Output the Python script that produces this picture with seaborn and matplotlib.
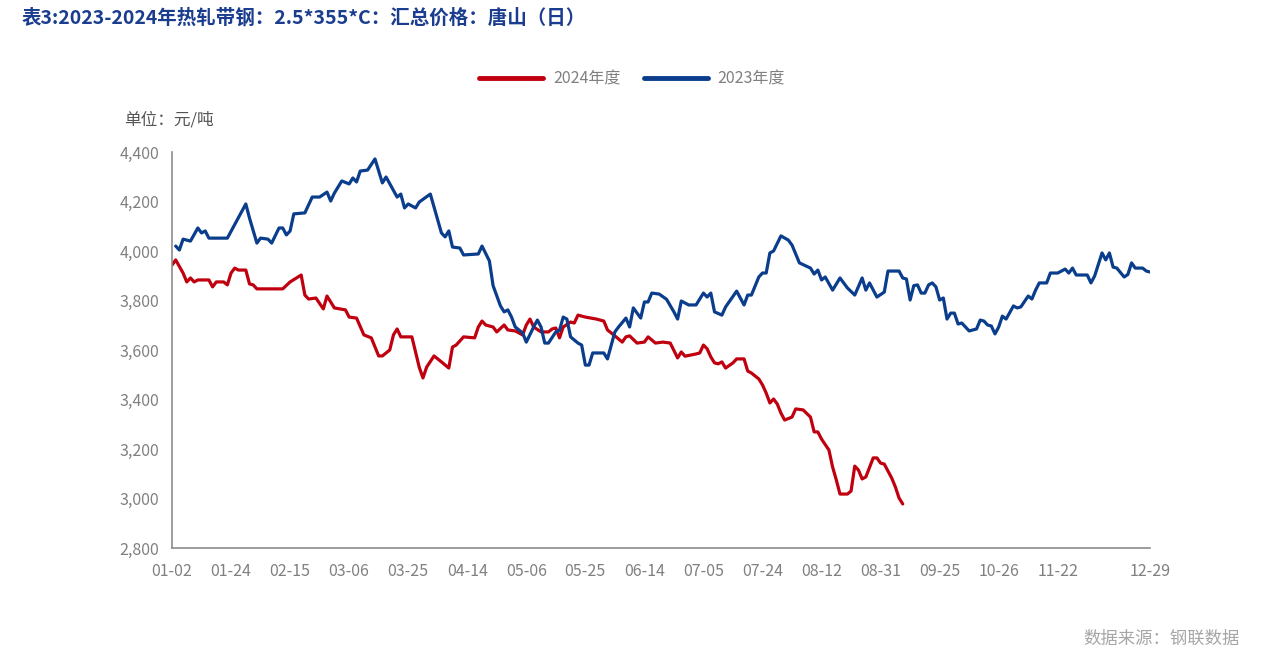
import matplotlib
matplotlib.use("Agg")
import matplotlib.pyplot as plt
import seaborn as sns
import pandas as pd
from matplotlib.lines import Line2D

# ---- data (trading-day index, price in 元/吨) ----
day_2023 = [1, 2, 3, 5, 7, 8, 9, 10, 15, 20, 21, 23, 24, 26, 27, 29, 30, 31, 32, 33, 36, 38, 40, 42, 43, 44,
            46, 48, 49, 50, 51, 53, 55, 57, 58, 61, 62, 63, 64, 66, 67, 70, 73, 74, 75, 76, 78, 79, 83, 84,
            86, 87, 89, 90, 91, 92, 93, 95, 96, 98, 99, 100, 101, 102, 104, 105, 106, 107, 108, 110, 111,
            112, 113, 114, 117, 118, 120, 121, 123, 124, 125, 127, 128, 129, 130, 132, 134, 136, 137, 138,
            140, 142, 144, 145, 146, 147, 149, 150, 153, 155, 156, 157, 159, 160, 161, 162, 163, 165, 167,
            168, 170, 173, 174, 175, 176, 177, 179, 181, 183, 185, 187, 188, 189, 191, 193, 194, 197, 198,
            199, 200, 201, 202, 203, 204, 205, 206, 207, 208, 209, 210, 211, 212, 213, 214, 216, 218, 219,
            220, 221, 222, 223, 224, 225, 226, 228, 229, 230, 232, 233, 234, 235, 237, 238, 240, 242, 243,
            244, 245, 248, 249, 250, 252, 253, 254, 255, 256, 258, 259, 260, 261, 263, 264, 265]
price_2023 = [4020, 4004, 4048, 4040, 4093, 4073, 4081, 4052, 4052, 4190, 4133, 4032, 4052, 4048, 4032,
              4093, 4093, 4065, 4081, 4150, 4154, 4218, 4218, 4238, 4202, 4234, 4283, 4271, 4295, 4279,
              4323, 4327, 4372, 4275, 4299, 4218, 4230, 4174, 4190, 4174, 4198, 4230, 4073, 4057, 4081,
              4016, 4012, 3984, 3988, 4020, 3960, 3860, 3778, 3754, 3762, 3733, 3693, 3669, 3632, 3693,
              3721, 3693, 3628, 3628, 3673, 3680, 3733, 3725, 3653, 3628, 3620, 3539, 3539, 3588, 3588,
              3564, 3673, 3693, 3729, 3693, 3770, 3729, 3794, 3794, 3830, 3826, 3805, 3754, 3725, 3798,
              3782, 3782, 3830, 3814, 3830, 3754, 3741, 3774, 3838, 3782, 3822, 3822, 3895, 3911, 3911,
              3992, 4000, 4061, 4044, 4024, 3952, 3931, 3907, 3923, 3883, 3895, 3842, 3891, 3851, 3822,
              3891, 3842, 3871, 3814, 3834, 3919, 3919, 3891, 3887, 3802, 3860, 3863, 3830, 3830, 3863,
              3871, 3855, 3802, 3810, 3725, 3749, 3749, 3705, 3709, 3677, 3685, 3721, 3717, 3701, 3697,
              3665, 3693, 3737, 3725, 3778, 3770, 3774, 3818, 3806, 3842, 3871, 3871, 3911, 3911, 3927,
              3911, 3931, 3903, 3903, 3871, 3899, 3992, 3964, 3992, 3935, 3931, 3895, 3905, 3952, 3931,
              3931, 3919, 3915]

day_2024 = [0, 1, 3, 4, 5, 6, 7, 10, 11, 12, 14, 15, 16, 17, 18, 20, 21, 22, 23, 30, 32, 35, 36, 37, 39,
            41, 42, 43, 44, 47, 48, 50, 52, 54, 56, 57, 59, 60, 61, 62, 65, 66, 67, 68, 69, 71, 73, 75,
            76, 77, 79, 82, 83, 84, 85, 87, 88, 90, 91, 93, 95, 96, 97, 98, 100, 102, 103, 104, 105, 106,
            108, 109, 110, 112, 115, 117, 118, 120, 122, 123, 124, 126, 128, 129, 131, 133, 135, 137, 138,
            139, 142, 143, 144, 145, 146, 147, 148, 149, 150, 152, 153, 155, 156, 157, 159, 160, 161, 162,
            163, 164, 165, 166, 168, 169, 171, 173, 174, 175, 176, 178, 179, 180, 181, 183, 184, 185, 186,
            187, 188, 190, 191, 192, 193, 195, 196, 197, 198]
price_2024 = [3943, 3964, 3911, 3875, 3891, 3875, 3883, 3883, 3855, 3875, 3875, 3863, 3911, 3931, 3923,
              3923, 3867, 3863, 3847, 3847, 3875, 3903, 3822, 3806, 3810, 3766, 3818, 3794, 3770, 3762,
              3733, 3729, 3661, 3649, 3576, 3576, 3600, 3661, 3685, 3653, 3653, 3592, 3530, 3487, 3531,
              3576, 3552, 3527, 3612, 3620, 3653, 3649, 3693, 3717, 3701, 3693, 3673, 3701, 3681, 3677,
              3661, 3701, 3725, 3693, 3673, 3673, 3685, 3689, 3649, 3693, 3713, 3709, 3741, 3733, 3725,
              3717, 3681, 3657, 3632, 3653, 3657, 3628, 3632, 3653, 3628, 3632, 3628, 3568, 3592, 3575,
              3584, 3588, 3620, 3605, 3572, 3548, 3544, 3552, 3527, 3548, 3564, 3564, 3515, 3507, 3483,
              3459, 3426, 3386, 3402, 3382, 3345, 3317, 3329, 3362, 3358, 3329, 3269, 3269, 3240, 3196,
              3127, 3075, 3018, 3018, 3030, 3131, 3115, 3079, 3087, 3164, 3164, 3143, 3139, 3083, 3047,
              3002, 2978]

series_names = ["2024年度", "2023年度"]
tick_days = [0, 16, 32, 48, 64, 80, 96, 112, 128, 144, 160, 176, 192, 208, 224, 240, 256, 265]
tick_labels = ["01-02", "01-24", "02-15", "03-06", "03-25", "04-14", "05-06", "05-25", "06-14",
               "07-05", "07-24", "08-12", "08-31", "09-25", "10-26", "11-22", "", "12-29"]
y_ticks = [2800, 3000, 3200, 3400, 3600, 3800, 4000, 4200, 4400]

# ---- build frame ----
df = pd.concat([
    pd.DataFrame({"day": day_2024, "price": price_2024, "year": series_names[0]}),
    pd.DataFrame({"day": day_2023, "price": price_2023, "year": series_names[1]}),
], ignore_index=True)

sns.set_theme(style="white")
plt.rcParams["font.family"] = ["Noto Sans CJK SC", "DejaVu Sans"]

RED = "#c0000f"
BLUE = "#0a3d8c"
GRAY = "#808080"

fig = plt.figure(figsize=(12.67, 6.63), dpi=100)
ax = fig.add_axes([172 / 1267, 1 - 548 / 663, (1150 - 172) / 1267, (548 - 152) / 663])

sns.lineplot(data=df, x="day", y="price", hue="year", palette={series_names[0]: RED, series_names[1]: BLUE},
             linewidth=2.3, ax=ax, legend=False, sort=True,
             solid_joinstyle="round", solid_capstyle="round")

ax.set_xlim(0, 265)
ax.set_ylim(2800, 4400)
ax.set_xticks(tick_days)
ax.set_xticklabels(tick_labels)
ax.set_yticks(y_ticks)
ax.set_yticklabels([f"{v:,}" for v in y_ticks])
ax.set_xlabel("")
ax.set_ylabel("")

for s in ["top", "right"]:
    ax.spines[s].set_visible(False)
for s in ["left", "bottom"]:
    ax.spines[s].set_color("#8c8c8c")
    ax.spines[s].set_linewidth(1.2)
ax.tick_params(axis="both", which="major", length=5, width=1.2, color="#8c8c8c",
               labelcolor=GRAY, labelsize=11.5, direction="out")
ax.tick_params(axis="x", pad=6)
ax.tick_params(axis="y", pad=4)
ax.grid(False)

# title
fig.text(22 / 1267, 1 - 18 / 663, "表3:2023-2024年热轧带钢：2.5*355*C：汇总价格：唐山（日）",
         color="#1a3d8f", fontsize=14, fontweight="bold", ha="left", va="center")

# unit
fig.text(124 / 1267, 1 - 120 / 663, "单位：元/吨", color="#555555", fontsize=12,
         ha="left", va="center")

# source
fig.text(1240 / 1267, 1 - 639 / 663, "数据来源：钢联数据", color="#a6a6a6", fontsize=12.5,
         ha="right", va="center")

# legend
handles = [Line2D([0], [0], color=RED, lw=3.5, solid_capstyle="round"),
           Line2D([0], [0], color=BLUE, lw=3.5, solid_capstyle="round")]
leg = fig.legend(handles, series_names, loc="center", bbox_to_anchor=(0.499, 1 - 79 / 663), ncol=2,
                 frameon=False, fontsize=11.5, handlelength=4.0, columnspacing=1.5, handletextpad=0.6)
for t in leg.get_texts():
    t.set_color(GRAY)

fig.savefig("out.png", dpi=100, facecolor="white")
